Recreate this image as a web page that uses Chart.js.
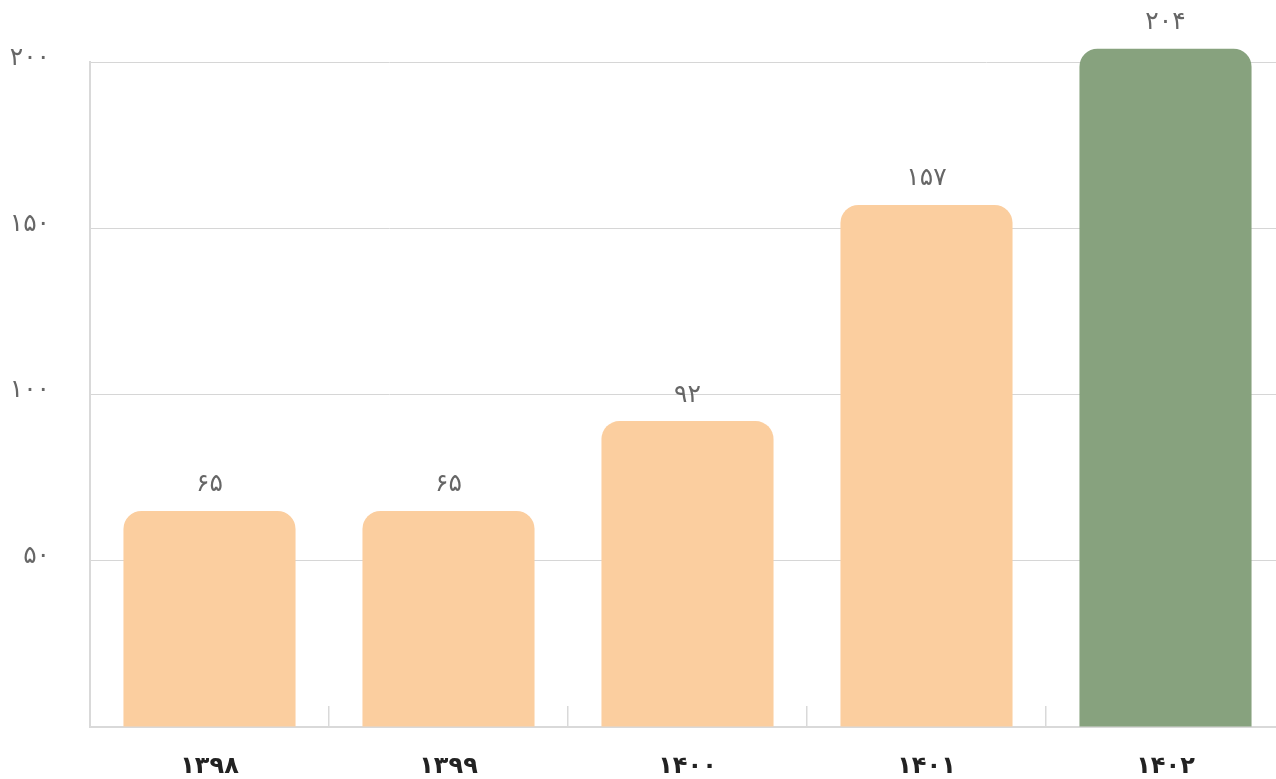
<!DOCTYPE html>
<html>
<head>
<meta charset="utf-8">
<script src="https://cdn.jsdelivr.net/npm/chart.js@4"></script>
<style>
  html, body { margin: 0; padding: 0; background: #fff; overflow: hidden; }
  #wrap { width: 1285px; height: 779px; }
</style>
</head>
<body>
<div id="wrap"><canvas id="myChart"></canvas></div>
<script>
var years = [1398, 1399, 1400, 1401, 1402];
var counts = [65, 65, 92, 157, 204];
var barColors = ['#fbce9f', '#fbce9f', '#fbce9f', '#fbce9f', '#87a27e'];
var yTicks = [0, 50, 100, 150, 200];

function toFa(n) {
  return String(n).replace(/\d/g, function(d) { return '۰۱۲۳۴۵۶۷۸۹'[d]; });
}

// numbers over the bars
var topLabels = {
  id: 'topLabels',
  afterDatasetsDraw: function(chart) {
    var c = chart.ctx;
    var meta = chart.getDatasetMeta(0);
    c.save();
    c.font = '25px "DejaVu Sans"';
    c.fillStyle = '#666';
    c.textAlign = 'center';
    c.textBaseline = 'middle';
    meta.data.forEach(function(bar, i) {
      c.fillText(toFa(counts[i]), bar.x, bar.y - 26);
    });
    c.restore();
  }
};

var ctx = document.getElementById('myChart').getContext('2d');
var chart = new Chart(ctx, {
  type: 'bar',
  data: {
    labels: years.map(toFa),
    datasets: [{
      data: counts,
      backgroundColor: barColors,
      borderRadius: { topLeft: 18, topRight: 18 },
      borderSkipped: 'bottom',
      barPercentage: 0.9,
      categoryPercentage: 0.8,
      clip: false
    }]
  },
  options: {
    responsive: true,
    maintainAspectRatio: false,
    animation: false,
    layout: { padding: { top: 62, right: 0, left: 0, bottom: 0 } },
    plugins: {
      legend: { display: false },
      tooltip: { enabled: false }
    },
    scales: {
      x: {
        grid: { drawOnChartArea: false, drawTicks: true, tickLength: -21, color: '#d9d9d9', lineWidth: 1.5 },
        border: { color: '#d9d9d9', width: 2 },
        ticks: { color: '#222', padding: 46, font: { family: 'DejaVu Sans', size: 24, weight: 'bold' } },
        afterFit: function(s) { s.height = 52; }
      },
      y: {
        min: 0,
        max: 200,
        afterBuildTicks: function(s) { s.ticks = yTicks.map(function(v) { return { value: v }; }); },
        grid: { color: '#d6d6d6', lineWidth: 1, drawTicks: false },
        border: { color: '#d9d9d9', width: 2 },
        ticks: {
          color: '#666',
          padding: 40,
          labelOffset: -4,
          font: { family: 'DejaVu Sans', size: 25 },
          callback: function(v) { return v === 0 ? '' : toFa(v); }
        },
        afterFit: function(s) { s.width = 90; s.paddingTop = 0; s.paddingBottom = 0; }
      }
    }
  },
  plugins: [topLabels]
});
</script>
</body>
</html>
